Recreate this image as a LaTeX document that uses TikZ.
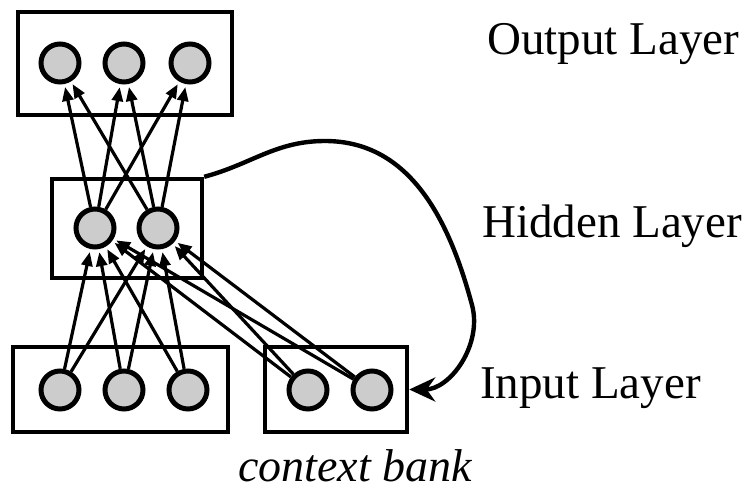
\documentclass[tikz,border=0pt]{standalone}
\usepackage{fontspec}
\setmainfont{Liberation Serif}
\usetikzlibrary{arrows.meta}
\begin{document}
\begin{tikzpicture}[x=1pt,y=-1pt,
  unit/.style={circle,draw,line width=5pt,fill=black!20,minimum size=38pt,inner sep=0pt},
  layerbox/.style={draw,line width=4.4pt,inner sep=0pt},
  conn/.style={line width=3.2pt,-{Triangle[length=14pt,width=11pt]},shorten >=3pt,shorten <=0pt},
  lbl/.style={font=\fontsize{47}{52}\selectfont,inner sep=0pt,anchor=base west}]
\useasboundingbox (0,0) rectangle (746,492);
% boxes
\node[layerbox,minimum width=214pt,minimum height=103pt] (ob) at (125,63.5) {};
\node[layerbox,minimum width=150pt,minimum height=99pt] (hb) at (127,228.5) {};
\node[layerbox,minimum width=215pt,minimum height=85pt] (ib) at (120.5,389.5) {};
\node[layerbox,minimum width=142pt,minimum height=85pt] (cb) at (336,389.5) {};
% units
\node[unit] (o1) at (60,63) {};
\node[unit] (o2) at (124,63) {};
\node[unit] (o3) at (190,63) {};
\node[unit] (h1) at (95,228) {};
\node[unit] (h2) at (158,228) {};
\node[unit] (i1) at (60,390) {};
\node[unit] (i2) at (124,390) {};
\node[unit] (i3) at (188,390) {};
\node[unit] (c1) at (308,390) {};
\node[unit] (c2) at (372,390) {};
% hidden -> output
\foreach \h in {h1,h2}
  \foreach \o in {o1,o2,o3}
    \draw[conn] (\h) -- (\o);
% input/context -> hidden
\foreach \s in {i1,i2,i3,c1,c2}
  \foreach \h in {h1,h2}
    \draw[conn] (\s) -- (\h);
% recurrent copy
\coordinate (p1) at (325,141);
\coordinate (p2) at (472,305);
\draw[line width=4.4pt,-{Stealth[length=26pt,width=24pt]}]
  (hb.north east) to[out=15,in=180] (p1) to[out=0,in=105] (p2)
  to[out=-75,in=0] (cb.east);
% labels
\node[lbl] (lo) at (487,55) {Output Layer};
\node[lbl] (lh) at (482,237) {Hidden Layer};
\node[lbl] (li) at (480,398) {Input Layer};
\node[lbl,font=\fontsize{46}{50}\selectfont\itshape] (lc) at (238,481) {context bank};
\end{tikzpicture}
\end{document}
